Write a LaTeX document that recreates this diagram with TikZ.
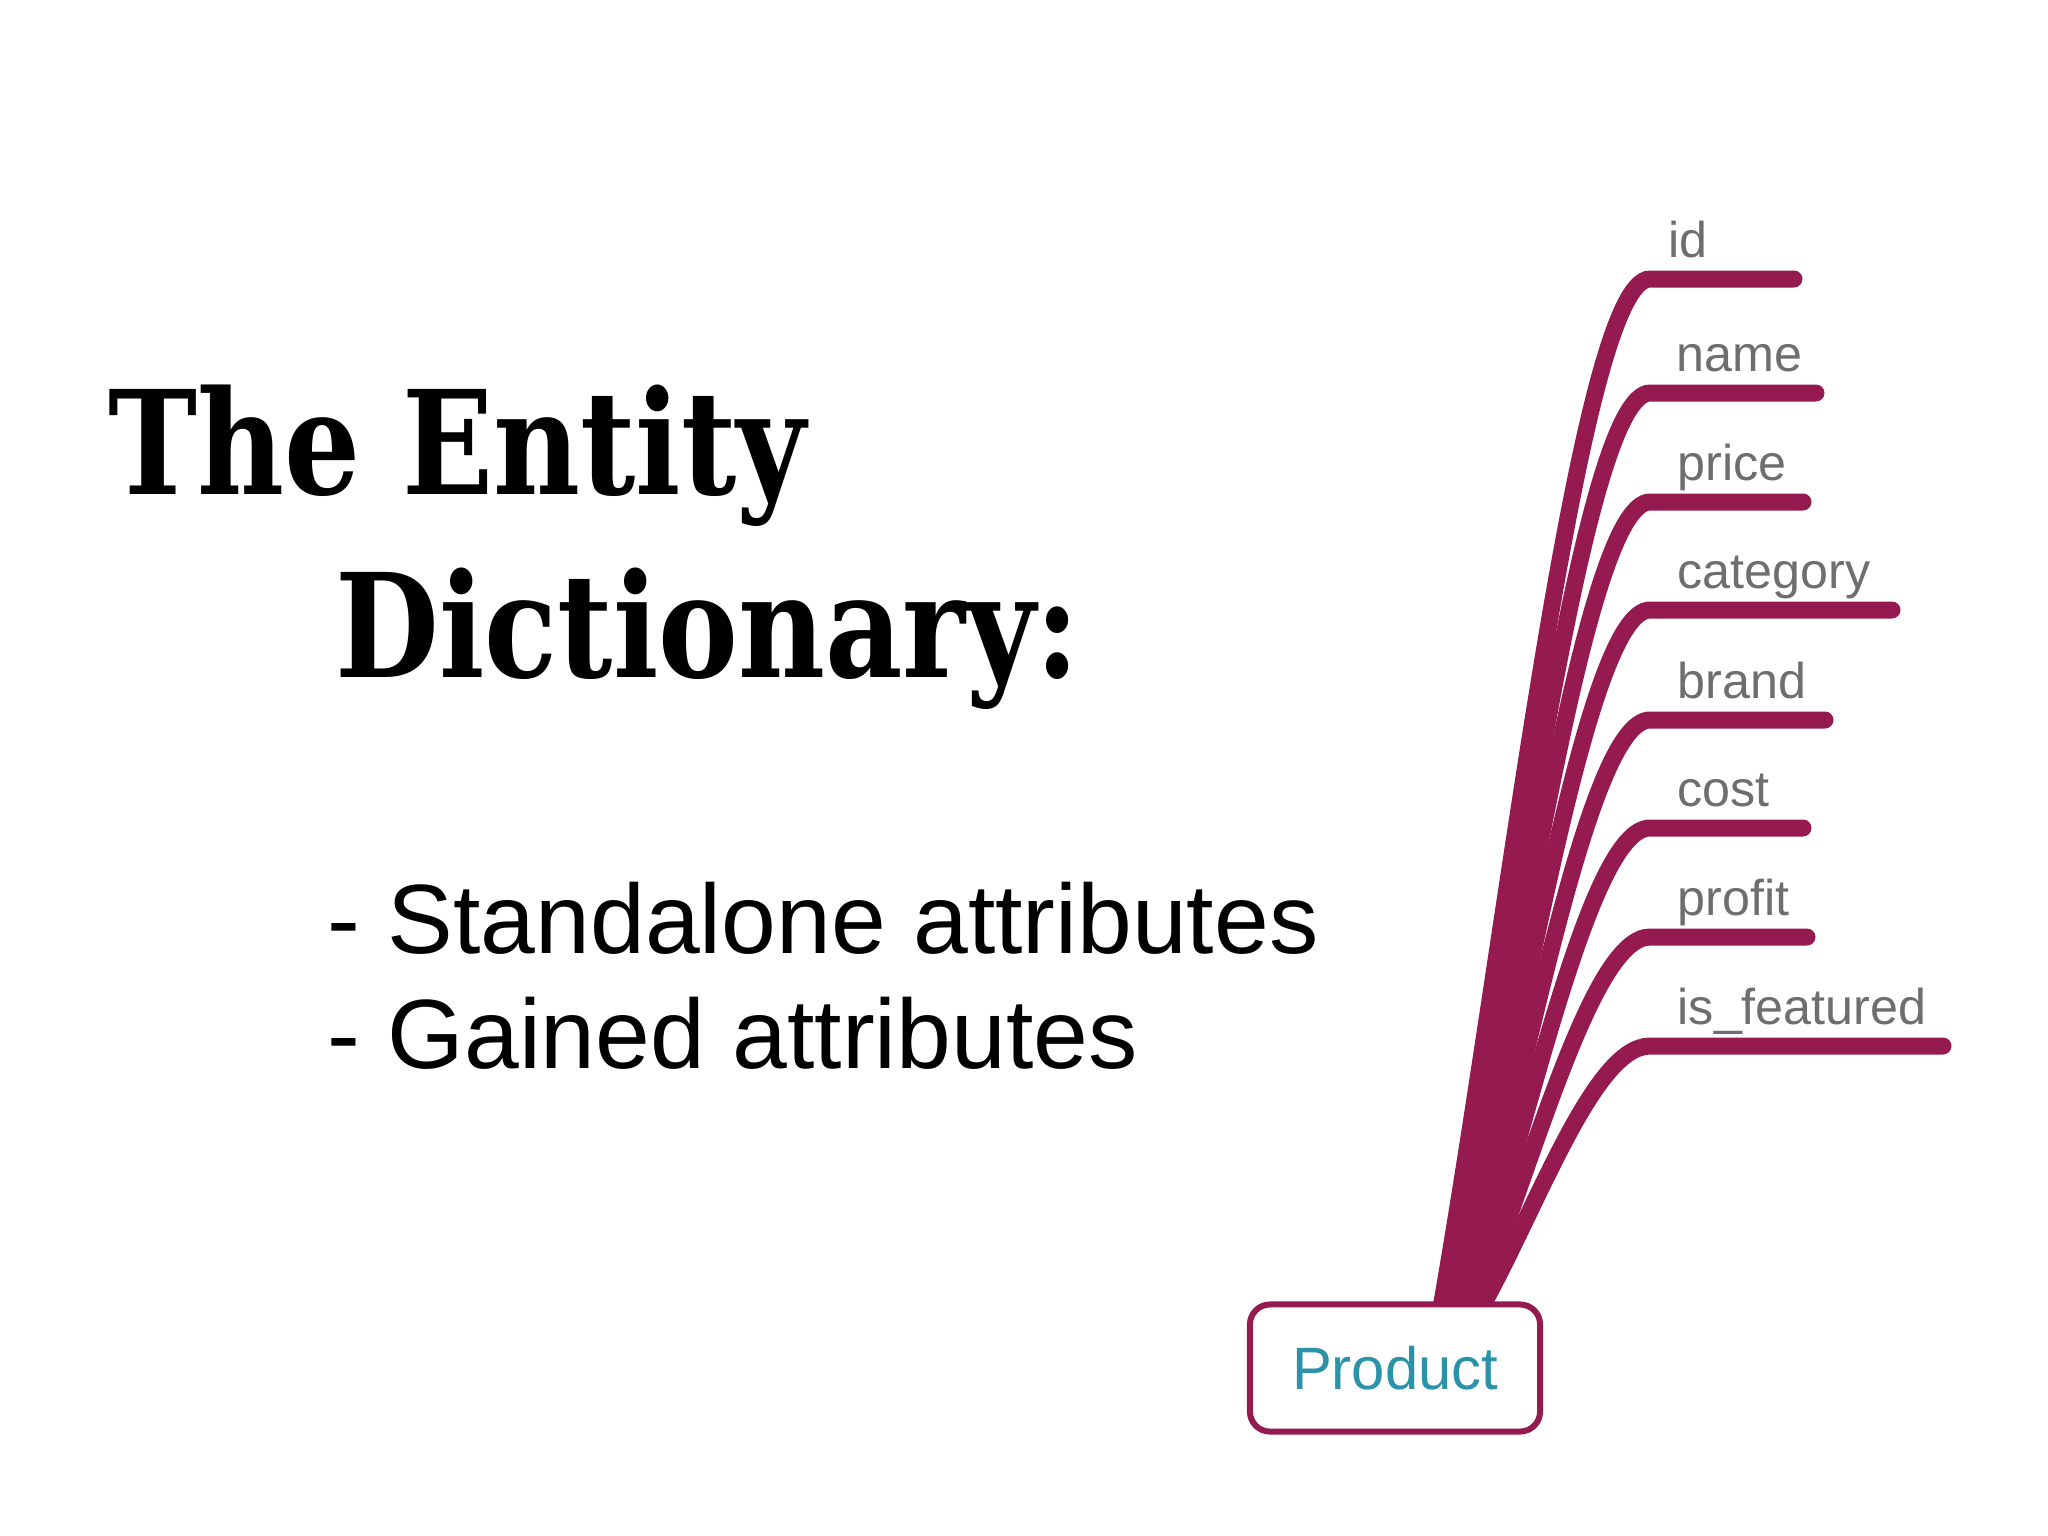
\documentclass[tikz,border=0pt]{standalone}
\usepackage{fontspec}
\usepackage{graphicx}
\setmainfont{Liberation Sans}
\newfontfamily\slabfont{DejaVu Serif}
\usetikzlibrary{calc}
\pgfdeclarelayer{background}
\pgfsetlayers{background,main}
\definecolor{plum}{HTML}{951A4F}
\definecolor{entityteal}{HTML}{2A93A8}
\definecolor{attrgray}{HTML}{6E6E6E}
\tikzstyle{branch} = [line width=0.17cm,color=plum,line cap=round]
\tikzstyle{entitybox} = [draw=plum,line width=0.06cm,rounded corners=0.2cm,fill=white,minimum width=2.9cm,minimum height=1.27cm,text=entityteal,font=\fontsize{17}{17}\selectfont]
\tikzstyle{attr} = [anchor=base west,inner sep=0pt,text=attrgray,font=\fontsize{14.3}{14.3}\selectfont]
\tikzstyle{heading} = [anchor=base west,inner sep=0pt,font=\slabfont\bfseries\fontsize{41}{41}\selectfont]
\tikzstyle{bullet} = [anchor=base west,inner sep=0pt,font=\fontsize{28}{28}\selectfont]

\begin{document}
\begin{tikzpicture}[x=0.01cm,y=-0.01cm]
\useasboundingbox (0,0) rectangle (2048,1536);

\node[heading] (title1) at (108,494) {\scalebox{0.83}[1]{The Entity}};
\node[heading] (title2) at (335,677) {\scalebox{0.83}[1]{Dictionary:}};

\node[bullet] (standalone) at (327,953) {- Standalone attributes};
\node[bullet] (gained) at (327,1068) {- Gained attributes};

\node[entitybox] (product) at (1395,1368) {Product};

%one branch per attribute, x offset of its root on top of the box
\begin{pgfonlayer}{background}
\foreach \field/\txt/\ypos/\xend/\xs/\lx in {id/id/279/1794/45/18, name/name/393/1816/50.4/26, price/price/502/1803/55.8/27, category/category/610/1892/61.2/27, brand/brand/720/1825/66.6/27, cost/cost/828/1803/72/27, profit/profit/937/1807/77.4/27, featured/is\_featured/1046/1943/83/27}
{
\coordinate (\field-in) at (1650,\ypos);
\coordinate (\field-end) at (\xend,\ypos);
\draw[branch] ($(product.north)+(\xs,12)$) .. controls +({(255-\xs)/3},{-0.39*(1302-\ypos)}) and +({-(255-\xs)/3},0) .. (\field-in) -- (\field-end);
\node[attr] (\field-lbl) at ($(\field-in)+(\lx,-22)$) {\txt};
}
\end{pgfonlayer}

\end{tikzpicture}
\end{document}
